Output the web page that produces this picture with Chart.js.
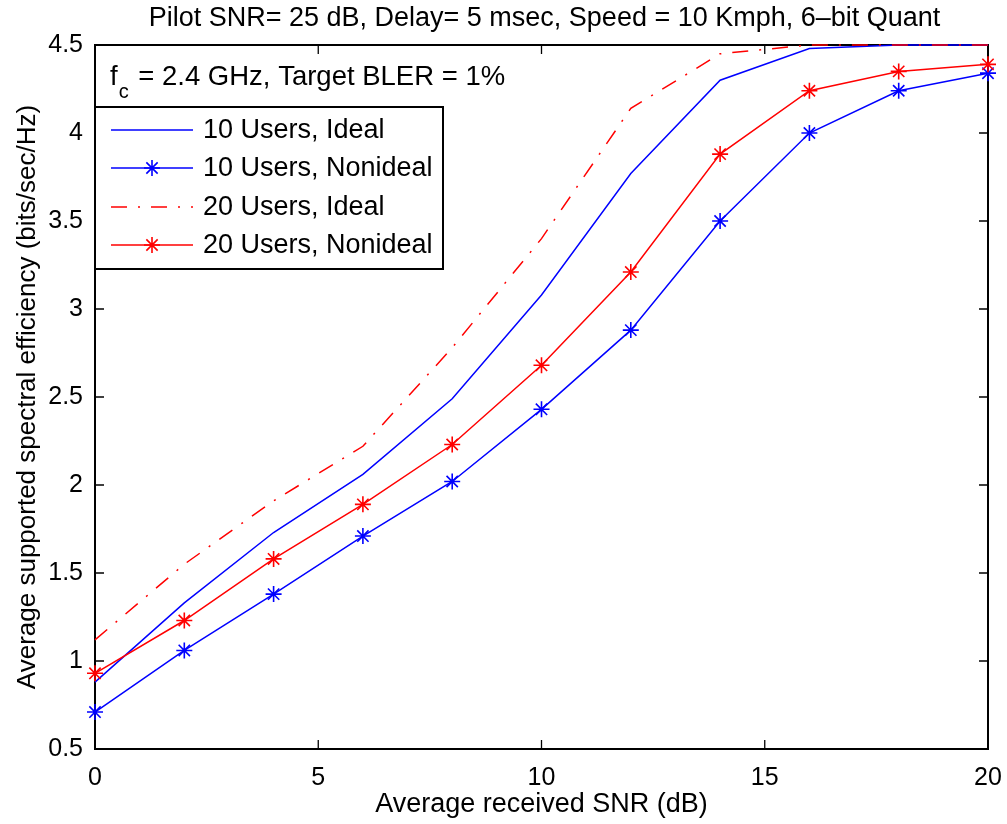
<!DOCTYPE html>
<html lang="en">
<head>
  <meta charset="utf-8">
  <title>Spectral efficiency vs SNR</title>
  <script src="https://cdn.jsdelivr.net/npm/chart.js"></script>
  <style>
    html, body { margin: 0; padding: 0; background: #fff; }
    #wrap { width: 1007px; height: 824px; }
  </style>
</head>
<body>
  <div id="wrap"><canvas id="snr-chart" width="1007" height="824"></canvas></div>
  <script>
    // average received SNR (dB)
    const snrDb = [0, 2, 4, 6, 8, 10, 12, 14, 16, 18, 20];
    // supported spectral efficiency (bits/sec/Hz)
    const users10Ideal    = [0.88, 1.33, 1.73, 2.06, 2.49, 3.08, 3.77, 4.30, 4.48, 4.50, 4.50];
    const users10Nonideal = [0.71, 1.06, 1.38, 1.71, 2.02, 2.43, 2.88, 3.50, 4.00, 4.24, 4.34];
    const users20Ideal    = [1.12, 1.55, 1.91, 2.22, 2.78, 3.40, 4.14, 4.45, 4.50, 4.50, 4.50];
    const users20Nonideal = [0.93, 1.23, 1.58, 1.89, 2.23, 2.68, 3.21, 3.88, 4.24, 4.35, 4.39];
    const xTicks = [0, 5, 10, 15, 20];
    const yTicks = [0.5, 1, 1.5, 2, 2.5, 3, 3.5, 4, 4.5];

    const FONT = "'Liberation Sans', Arial, Helvetica, sans-serif";
    const DASH_DOT = [16, 11, 2, 11];

    Chart.defaults.font.family = FONT;
    Chart.defaults.font.size = 25;
    Chart.defaults.color = '#000';

    function series(ys) {
      return snrDb.map((x, i) => ({ x: x, y: ys[i] }));
    }

    // box around the axes with inward ticks on all four sides
    const axesBox = {
      id: 'axesBox',
      beforeDatasetsDraw(chart) {
        const { ctx, chartArea: a, scales } = chart;
        const len = 9;
        ctx.save();
        ctx.strokeStyle = '#000';
        ctx.lineWidth = 2;
        ctx.strokeRect(a.left, a.top, a.right - a.left, a.bottom - a.top);
        ctx.lineWidth = 1.3;
        ctx.beginPath();
        scales.x.ticks.forEach(t => {
          const px = scales.x.getPixelForValue(t.value);
          ctx.moveTo(px, a.bottom); ctx.lineTo(px, a.bottom - len);
          ctx.moveTo(px, a.top); ctx.lineTo(px, a.top + len);
        });
        scales.y.ticks.forEach(t => {
          const py = scales.y.getPixelForValue(t.value);
          ctx.moveTo(a.left, py); ctx.lineTo(a.left + len, py);
          ctx.moveTo(a.right, py); ctx.lineTo(a.right - len, py);
        });
        ctx.stroke();
        ctx.restore();
      }
    };

    // title, carrier note and boxed legend
    const overlay = {
      id: 'overlay',
      afterDraw(chart) {
        const { ctx, chartArea: a } = chart;
        ctx.save();
        ctx.fillStyle = '#000';
        ctx.font = '27px ' + FONT;
        ctx.textAlign = 'center';
        ctx.textBaseline = 'middle';
        ctx.fillText('Pilot SNR= 25 dB, Delay= 5 msec, Speed = 10 Kmph, 6\u2013bit Quant', (a.left + a.right) / 2 + 3, 19);

        // f_c = 2.4 GHz, Target BLER = 1%
        ctx.font = '27.5px ' + FONT;
        ctx.textAlign = 'left';
        ctx.textBaseline = 'alphabetic';
        let x = a.left + 15;
        ctx.fillText('f', x, 85);
        x += ctx.measureText('f').width + 1;
        ctx.font = '20px ' + FONT;
        ctx.fillText('c', x, 98);
        x += ctx.measureText('c').width + 2;
        ctx.font = '27.5px ' + FONT;
        ctx.fillText(' = 2.4 GHz, Target BLER = 1%', x, 85);

        // legend
        const box = { left: a.left, top: 107, right: 443, bottom: 269 };
        ctx.fillStyle = '#fff';
        ctx.fillRect(box.left, box.top, box.right - box.left, box.bottom - box.top);
        ctx.strokeStyle = '#000';
        ctx.lineWidth = 2;
        ctx.strokeRect(box.left, box.top, box.right - box.left, box.bottom - box.top);
        const rows = [130, 168, 207, 245];
        chart.data.datasets.forEach((ds, i) => {
          const y = rows[i];
          ctx.strokeStyle = ds.borderColor;
          ctx.lineWidth = ds.borderWidth;
          ctx.setLineDash(ds.borderDash || []);
          ctx.beginPath();
          ctx.moveTo(111, y);
          ctx.lineTo(193, y);
          ctx.stroke();
          ctx.setLineDash([]);
          if (ds.pointStyle === 'star') {
            ctx.lineWidth = ds.pointBorderWidth;
            Chart.helpers.drawPoint(ctx, { pointStyle: 'star', radius: ds.pointRadius, rotation: 0, borderWidth: ds.pointBorderWidth }, 152, y);
          }
          ctx.fillStyle = '#000';
          ctx.font = '27px ' + FONT;
          ctx.textBaseline = 'middle';
          ctx.fillText(ds.label, 203, y + 1);
        });
        ctx.restore();
      }
    };

    new Chart(document.getElementById('snr-chart'), {
      type: 'line',
      data: {
        datasets: [
          { label: '10 Users, Ideal', data: series(users10Ideal), borderColor: '#0000ff', borderWidth: 1.5, pointRadius: 0, order: 4 },
          { label: '10 Users, Nonideal', data: series(users10Nonideal), borderColor: '#0000ff', borderWidth: 1.5,
            pointStyle: 'star', pointRadius: 8, pointBorderWidth: 1.6, pointBorderColor: '#0000ff', order: 3 },
          { label: '20 Users, Ideal', data: series(users20Ideal), borderColor: '#ff0000', borderWidth: 1.5, borderDash: DASH_DOT, pointRadius: 0, order: 2 },
          { label: '20 Users, Nonideal', data: series(users20Nonideal), borderColor: '#ff0000', borderWidth: 1.5,
            pointStyle: 'star', pointRadius: 8, pointBorderWidth: 1.6, pointBorderColor: '#ff0000', order: 1 }
        ]
      },
      options: {
        responsive: false,
        animation: false,
        layout: { padding: { top: 45, right: 19, left: 0, bottom: 0 } },
        plugins: { legend: { display: false }, tooltip: { enabled: false } },
        elements: { line: { tension: 0, fill: false } },
        datasets: { line: { clip: false } },
        scales: {
          x: {
            type: 'linear', min: 0, max: 20,
            afterBuildTicks: s => { s.ticks = xTicks.map(v => ({ value: v })); },
            afterFit: s => { s.height = 75; s.paddingLeft = 0; s.paddingRight = 0; },
            grid: { display: false },
            border: { display: false },
            ticks: { padding: 6, font: { size: 25 }, color: '#000' },
            title: { display: true, text: 'Average received SNR (dB)', font: { size: 27 }, padding: { top: 0, bottom: 3 }, color: '#000' }
          },
          y: {
            type: 'linear', min: 0.5, max: 4.5,
            afterBuildTicks: s => { s.ticks = yTicks.map(v => ({ value: v })); },
            afterFit: s => { s.width = 95; s.paddingTop = 0; s.paddingBottom = 0; },
            grid: { display: false },
            border: { display: false },
            ticks: { padding: 4, font: { size: 25 }, color: '#000', callback: v => String(v) },
            title: { display: true, text: 'Average supported spectral efficiency (bits/sec/Hz)', font: { size: 26 }, padding: { top: 12, bottom: 0 }, color: '#000' }
          }
        }
      },
      plugins: [axesBox, overlay]
    });
  </script>
</body>
</html>
